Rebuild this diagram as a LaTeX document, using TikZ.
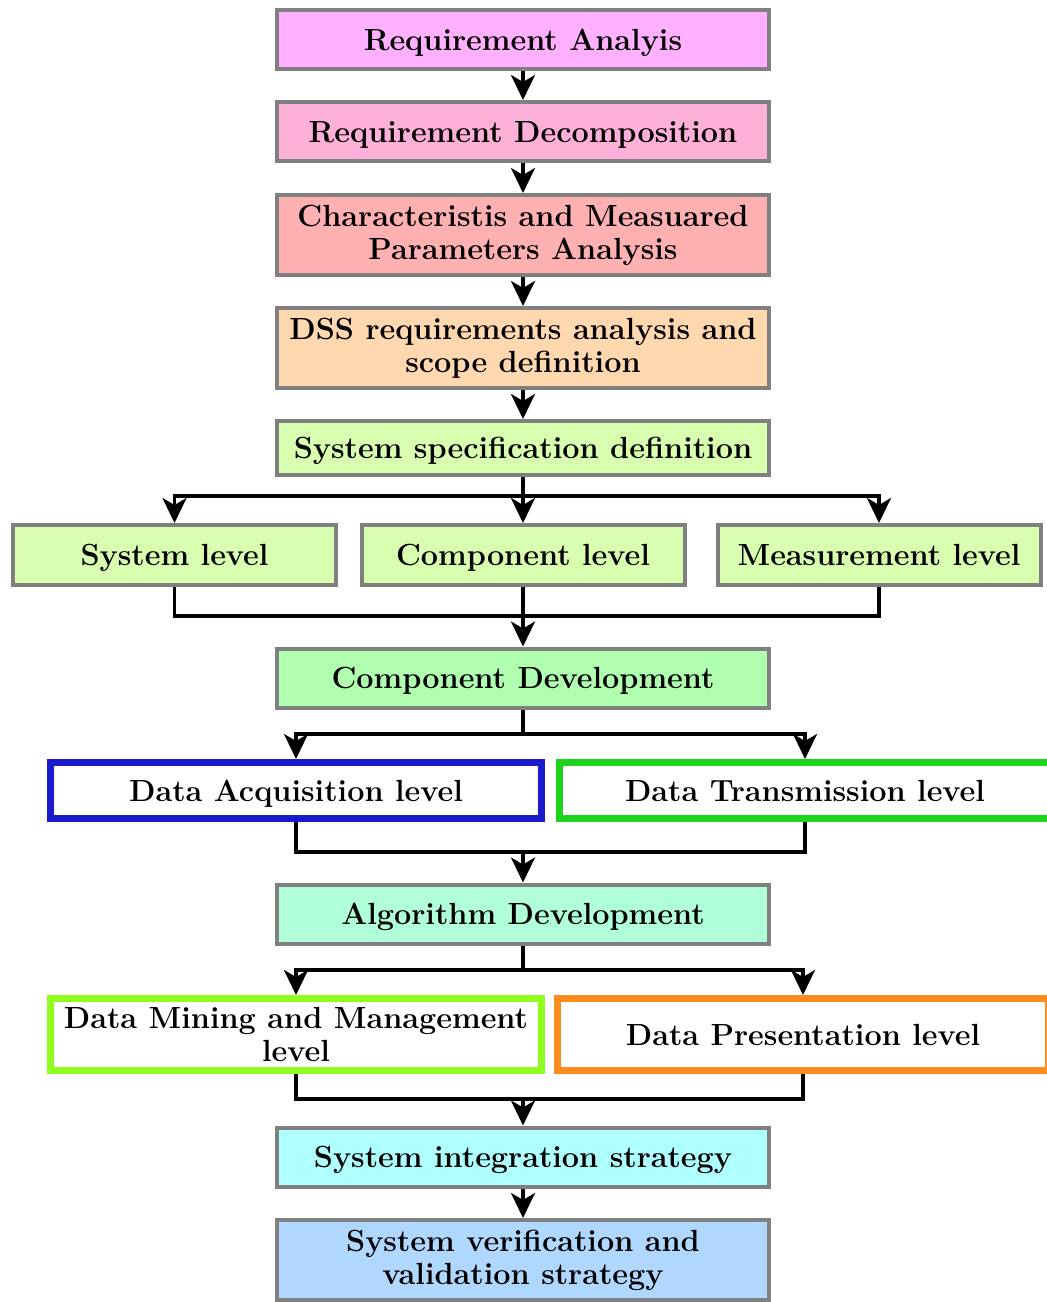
\documentclass[tikz,border=0pt]{standalone}
\usetikzlibrary{arrows.meta}
\definecolor{grayline}{RGB}{128,128,128}
\definecolor{raFill}{RGB}{255,176,255}
\definecolor{rdFill}{RGB}{255,176,216}
\definecolor{cmFill}{RGB}{255,176,176}
\definecolor{dssFill}{RGB}{255,216,176}
\definecolor{ssFill}{RGB}{216,255,176}
\definecolor{cdFill}{RGB}{176,255,176}
\definecolor{adFill}{RGB}{176,255,216}
\definecolor{siFill}{RGB}{176,255,255}
\definecolor{svFill}{RGB}{176,216,255}
\definecolor{daLine}{RGB}{26,26,204}
\definecolor{dtLine}{RGB}{28,212,28}
\definecolor{dmLine}{RGB}{144,255,32}
\definecolor{dpLine}{RGB}{255,140,28}
\tikzset{
  box/.style={draw=grayline,line width=2pt,align=center,
    font=\fontsize{15.3}{16.5}\selectfont\bfseries,
    minimum width=246pt,minimum height=29.5pt,inner sep=0pt},
  sline/.style={text height=10.5pt,text depth=0pt},
  lvl/.style={box,sline,minimum width=161.5pt,minimum height=30pt,fill=ssFill},
  dbox/.style={draw=#1,line width=3.5pt,fill=white,align=center,
    font=\fontsize{15.3}{16.5}\selectfont\bfseries,
    minimum width=245.5pt,minimum height=28pt,inner sep=0pt},
  arr/.style={line width=1.75pt,-{Stealth[length=12.5pt,width=12pt,inset=3.5pt]}},
  ln/.style={line width=1.75pt}
}
\begin{document}
\begin{tikzpicture}[x=0.5pt,y=-0.5pt]
	\useasboundingbox (0,0) rectangle (1047,1302);
	\clip (0,0) rectangle (1047,1302);

	% Main chain
	\node[box,sline,fill=raFill] (ra) at (523,39.5) {Requirement Analyis};
	\node[box,sline,fill=rdFill] (rd) at (523,131.5) {Requirement Decomposition};
	\node[box,fill=cmFill,minimum height=40pt] (cm) at (523,235) {Characteristis and Measuared\\Parameters Analysis};
	\node[box,fill=dssFill,minimum height=40pt] (dss) at (523,348) {DSS requirements analysis and\\scope definition};
	\node[box,sline,fill=ssFill,minimum height=27pt] (ssd) at (523,448) {System specification definition};

	% Levels
	\node[lvl] (sl) at (174.5,555) {System level};
	\node[lvl] (cl) at (523,555) {Component level};
	\node[lvl] (ml) at (879,555) {Measurement level};

	\node[box,sline,fill=cdFill] (cd) at (523,678) {Component Development};

	\node[dbox=daLine,sline] (da) at (296,790.5) {Data Acquisition level};
	\node[dbox=dtLine,sline] (dt) at (805,790.5) {Data Transmission level};

	\node[box,sline,fill=adFill] (ad) at (523,914) {Algorithm Development};

	\node[dbox=dmLine,minimum height=36pt] (dm) at (296,1034.5) {Data Mining and Management\\level};
	\node[dbox=dpLine,sline,minimum height=36pt] (dp) at (803,1034.5) {Data Presentation level};

	\node[box,sline,fill=siFill] (si) at (523,1157) {System integration strategy};
	\node[box,fill=svFill,minimum height=40pt] (sv) at (523,1260) {System verification and\\validation strategy};

	% Junctions
	\coordinate (s1) at (523,496);
	\coordinate (m1) at (523,616);
	\coordinate (s2) at (523,734);
	\coordinate (m2) at (523,852);
	\coordinate (s3) at (523,970);
	\coordinate (m3) at (523,1099);

	% Arrows
	\foreach \a/\b in {ra/rd,rd/cm,cm/dss,dss/ssd,ssd/cl,cl/cd,si/sv}
		\draw[arr] (\a) -- (\b);
	\draw[arr] (s1) -| (sl);
	\draw[arr] (s1) -| (ml);
	\draw[ln] (sl) |- (m1);
	\draw[ln] (ml) |- (m1);

	\draw[ln] (cd) -- (s2);
	\draw[arr] (s2) -| (da);
	\draw[arr] (s2) -| (dt);
	\draw[ln] (da) |- (m2);
	\draw[ln] (dt) |- (m2);
	\draw[arr] (m2) -- (ad);

	\draw[ln] (ad) -- (s3);
	\draw[arr] (s3) -| (dm);
	\draw[arr] (s3) -| (dp);
	\draw[ln] (dm) |- (m3);
	\draw[ln] (dp) |- (m3);
	\draw[arr] (m3) -- (si);
\end{tikzpicture}
\end{document}
